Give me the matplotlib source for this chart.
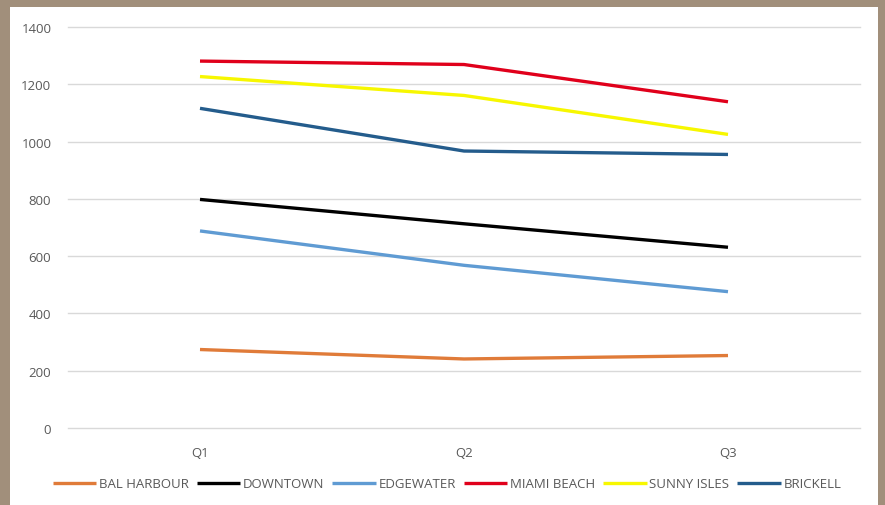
import matplotlib
matplotlib.use("Agg")
import matplotlib.pyplot as plt
from matplotlib.patches import Rectangle

quarters = ["Q1", "Q2", "Q3"]
bal_harbour = [274, 241, 253]
downtown = [798, 713, 631]
edgewater = [688, 568, 476]
miami_beach = [1281, 1269, 1139]
sunny_isles = [1227, 1161, 1025]
brickell = [1116, 967, 955]

series = [
    ("BAL HARBOUR", bal_harbour, "#E07B39"),
    ("DOWNTOWN", downtown, "#000000"),
    ("EDGEWATER", edgewater, "#5F9BD3"),
    ("MIAMI BEACH", miami_beach, "#E0001B"),
    ("SUNNY ISLES", sunny_isles, "#F7F700"),
    ("BRICKELL", brickell, "#245C8C"),
]

W, H = 885, 506
fig = plt.figure(figsize=(W / 100, H / 100), dpi=100, facecolor="#A18F7B")
bg = fig.add_axes([0, 0, 1, 1], zorder=-5)
bg.set_xlim(0, W)
bg.set_ylim(H, 0)
bg.axis("off")
bg.add_patch(Rectangle((10, 8), 868, 498, facecolor="white", edgecolor="none"))

ax = fig.add_axes([68 / W, 1 - 429 / H, (860 - 68) / W, (429 - 28) / H], zorder=1)
ax.set_facecolor("none")
x = list(range(len(quarters)))
for name, vals, col in series:
    ax.plot(x, vals, color=col, lw=2.4, label=name, solid_capstyle="butt")

ax.set_xlim(-0.5, 2.5)
ax.set_ylim(0, 1400)
ax.set_yticks(range(0, 1401, 200))
ax.set_xticks(x)
ax.set_xticklabels(quarters)
ax.grid(axis="y", color="#D9D9D9", lw=1)
for gl in ax.get_ygridlines():
    gl.set_clip_on(False)
ax.set_axisbelow(True)
for s in ax.spines.values():
    s.set_visible(False)
ax.tick_params(length=0, labelsize=9.5, colors="#595959")
ax.tick_params(axis="y", pad=12)
ax.tick_params(axis="x", pad=13)
for lab in ax.get_xticklabels() + ax.get_yticklabels():
    lab.set_family("Open Sans")

leg = fig.legend(loc="center", bbox_to_anchor=(447 / W, 1 - 485 / H), ncol=6,
                 frameon=False, handlelength=3.3, handletextpad=0.2,
                 columnspacing=0.6, prop={"family": "Open Sans", "size": 9.5})
for t in leg.get_texts():
    t.set_color("#595959")

fig.savefig("out.png", dpi=100, facecolor=fig.get_facecolor())
